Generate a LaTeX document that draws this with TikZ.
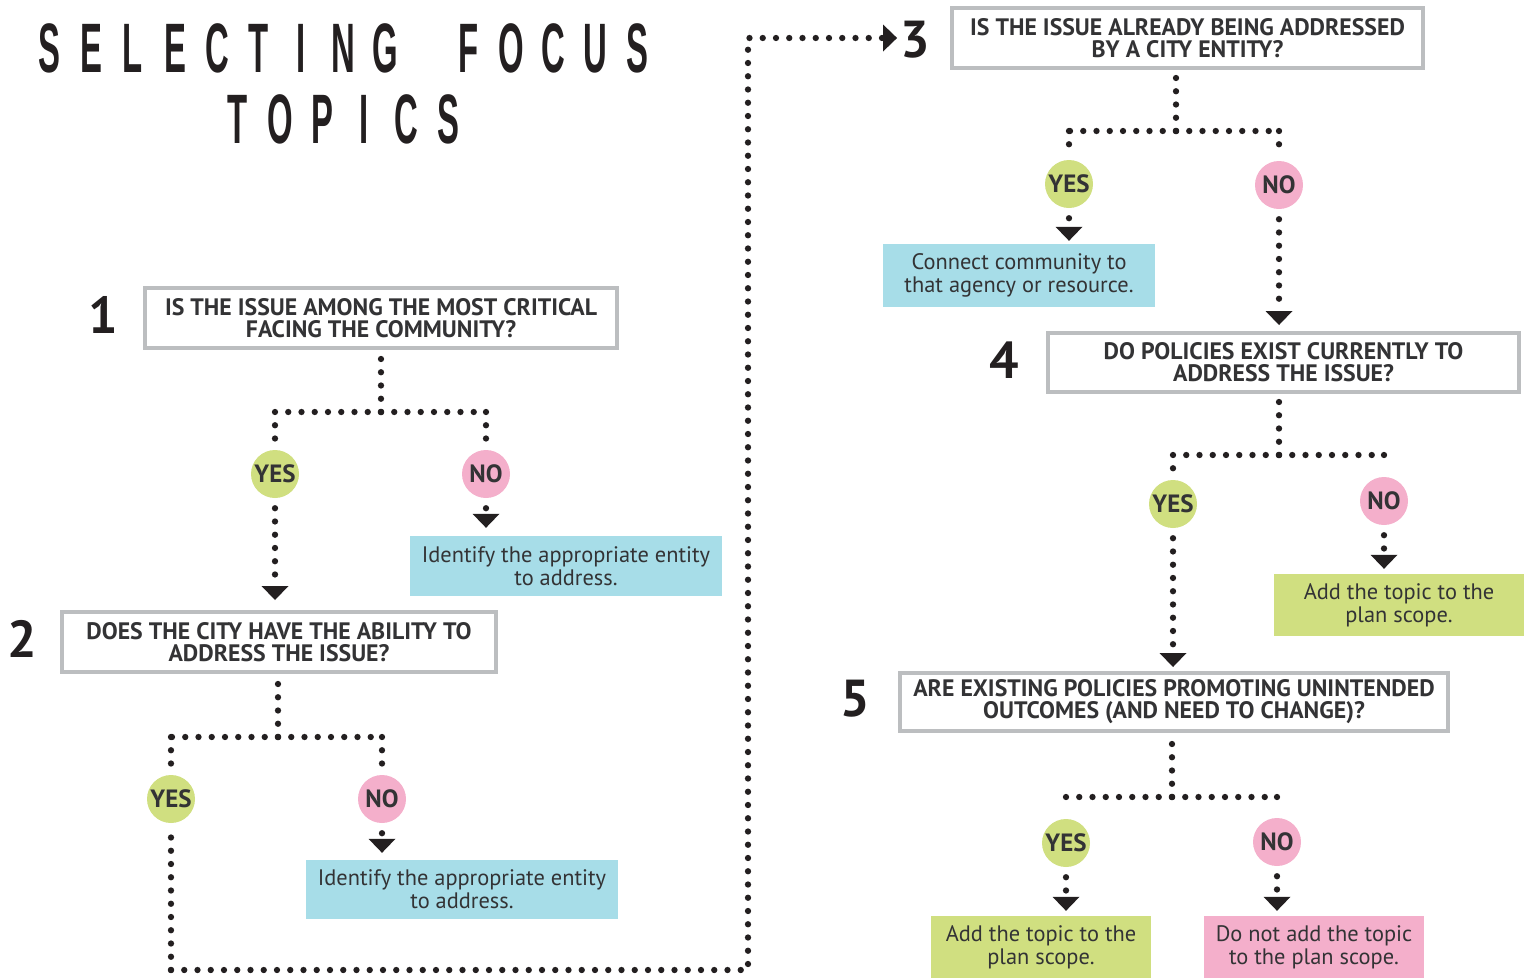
\documentclass[tikz,border=0pt]{standalone}
\usepackage{fontspec}
\setmainfont{PT Sans}
\newfontfamily\titlefont{Liberation Sans}
\usetikzlibrary{arrows.meta,calc}
\definecolor{boxgray}{HTML}{BCBEC0}
\definecolor{ink}{HTML}{231F20}
\definecolor{txt}{HTML}{333335}
\definecolor{cyanbox}{HTML}{A7DDE8}
\definecolor{greenbox}{HTML}{D0DF80}
\definecolor{pinkbox}{HTML}{F4AFCB}
% one spaced, condensed title letter
\newcommand\tch[1]{\makebox[42pt]{\scalebox{0.47}[1]{#1}}}

\begin{document}
\begin{tikzpicture}[x=1pt,y=-1pt,
  question/.style={draw=boxgray,line width=4pt,fill=white,align=center,text=txt,
    font=\bfseries\fontsize{23.8}{22}\selectfont,inner sep=0pt},
  answer/.style={align=center,text=txt,font=\fontsize{22.4}{23}\selectfont,inner sep=0pt},
  yes/.style={circle,fill=greenbox,minimum size=48pt,inner sep=0pt,text=txt,
    font=\bfseries\fontsize{25}{25}\selectfont},
  no/.style={yes,fill=pinkbox},
  stepnum/.style={anchor=base,inner sep=0pt,text=ink,font=\bfseries\fontsize{52}{52}\selectfont},
  titletext/.style={anchor=base,inner sep=0pt,text=ink,font=\titlefont\bfseries\fontsize{70}{70}\selectfont},
  dots/.style={draw=ink,line width=6.3pt,line cap=round,dash pattern=on 0pt off 13.25pt},
  dotarrow/.style={dots,-{Triangle[width=27pt,length=14pt,line width=0pt]}},
]
\useasboundingbox (0,0) rectangle (1530,978);

% title
\node[titletext] (title1) at (343,72) {\tch{S}\tch{E}\tch{L}\tch{E}\tch{C}\tch{T}\tch{I}\tch{N}\tch{G}\tch{}\tch{F}\tch{O}\tch{C}\tch{U}\tch{S}};
\node[titletext] (title2) at (343,143) {\tch{T}\tch{O}\tch{P}\tch{I}\tch{C}\tch{S}};

% step numbers
\node[stepnum] (num1) at (103,333) {1};
\node[stepnum] (num2) at (22,657) {2};
\node[stepnum] (num3) at (915,57) {3};
\node[stepnum] (num4) at (1004,378) {4};
\node[stepnum] (num5) at (855,716) {5};

% questions
\node[question,minimum width=472pt,minimum height=60pt] (q1) at (381,318)
  {IS THE ISSUE AMONG THE MOST CRITICAL\\FACING THE COMMUNITY?};
\node[question,minimum width=434pt,minimum height=60pt] (q2) at (279,642)
  {DOES THE CITY HAVE THE ABILITY TO\\ADDRESS THE ISSUE?};
\node[question,minimum width=471pt,minimum height=60pt] (q3) at (1187.5,38)
  {IS THE ISSUE ALREADY BEING ADDRESSED\\BY A CITY ENTITY?};
\node[question,minimum width=471pt,minimum height=59pt] (q4) at (1283.5,362.5)
  {DO POLICIES EXIST CURRENTLY TO\\ADDRESS THE ISSUE?};
\node[question,minimum width=548pt,minimum height=58pt] (q5) at (1174,702)
  {ARE EXISTING POLICIES PROMOTING UNINTENDED\\OUTCOMES (AND NEED TO CHANGE)?};

% yes / no
\node[yes] (y1) at (275,474) {YES};
\node[no]  (n1) at (486,474) {NO};
\node[yes] (y2) at (171,799) {YES};
\node[no]  (n2) at (382,799) {NO};
\node[yes] (y3) at (1069,184) {YES};
\node[no]  (n3) at (1279,185) {NO};
\node[yes] (y4) at (1173,504) {YES};
\node[no]  (n4) at (1384,501) {NO};
\node[yes] (y5) at (1066,843) {YES};
\node[no]  (n5) at (1277,842) {NO};

% outcomes
\node[answer,fill=cyanbox,minimum width=312pt,minimum height=60pt] (a1) at (566,566)
  {Identify the appropriate entity\\to address.};
\node[answer,fill=cyanbox,minimum width=312pt,minimum height=59pt] (a2) at (462,889.5)
  {Identify the appropriate entity\\to address.};
\node[answer,fill=cyanbox,minimum width=272pt,minimum height=63pt] (a3) at (1019,275.5)
  {Connect community to\\that agency or resource.};
\node[answer,fill=greenbox,minimum width=250pt,minimum height=62pt] (a4) at (1399,605)
  {Add the topic to the\\plan scope.};
\node[answer,fill=greenbox,minimum width=220pt,minimum height=62pt] (a5) at (1041,947)
  {Add the topic to the\\plan scope.};
\node[answer,fill=pinkbox,minimum width=220pt,minimum height=62pt] (a6) at (1314,947)
  {Do not add the topic\\to the plan scope.};

% branch points
\coordinate (j1) at (381,412);
\coordinate (j2) at (278,737);
\coordinate (j3) at (1176,131);
\coordinate (j4) at (1279,455);
\coordinate (j5) at (1172,797);
% route from step 2 to step 3
\coordinate (c1) at (171,970);
\coordinate (c2) at (748,970);
\coordinate (c3) at (748,38);

% question -> branch
\foreach \q/\j/\y/\n in {q1/j1/y1/n1, q2/j2/y2/n2, q3/j3/y3/n3, q4/j4/y4/n4, q5/j5/y5/n5}{
  \draw[dots,shorten >=6pt] (\j) -- (\j |- \q.south);
  \draw[dots] (\j) -- (\j -| \y);
  \draw[dots] (\j) -- (\j -| \n);
  \draw[dots,shorten >=11pt] (\j -| \y) -- (\y.north);
  \draw[dots,shorten >=11pt] (\j -| \n) -- (\n.north);
}

% answers -> next step or outcome
\draw[dotarrow,shorten <=10pt,shorten >=10pt] (y1.south) -- (y1.south |- q2.north);
\draw[dotarrow,shorten <=10pt,shorten >=8pt] (n1.south) -- (n1.south |- a1.north);
\draw[dotarrow,shorten <=10pt,shorten >=7pt] (n2.south) -- (n2.south |- a2.north);
\draw[dotarrow,shorten <=10pt,shorten >=3pt] (y3.south) -- (y3.south |- a3.north);
\draw[dotarrow,shorten <=10pt,shorten >=6pt] (n3.south) -- (n3.south |- q4.north);
\draw[dotarrow,shorten <=10pt,shorten >=5pt] (n4.south) -- (n4.south |- a4.north);
\draw[dotarrow,shorten <=10pt,shorten >=4pt] (y4.south) -- (y4.south |- q5.north);
\draw[dotarrow,shorten <=10pt,shorten >=5pt] (y5.south) -- (y5.south |- a5.north);
\draw[dotarrow,shorten <=10pt,shorten >=5pt] (n5.south) -- (n5.south |- a6.north);

% long route from the YES of step 2 to step 3
\draw[dots,shorten >=8pt] (c1) -- (y2.south);
\draw[dotarrow,shorten >=3pt] (c1) -- (c2) -- (c3) -- (num3.west |- c3);
\end{tikzpicture}
\end{document}
